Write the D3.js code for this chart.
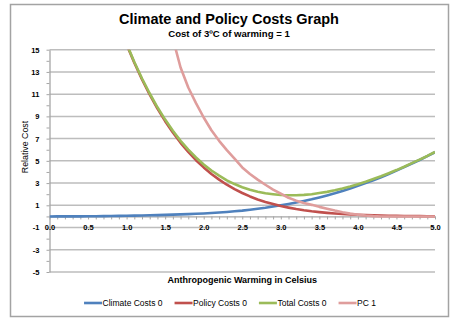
<!DOCTYPE html>
<html lang="en">
<head>
<meta charset="UTF-8">
<title>Climate and Policy Costs Graph</title>
<style>
    body { margin: 0; background: #fff; }
    svg text { font-family: "Liberation Sans", Arial, sans-serif; fill: #000; }
</style>
</head>
<body>
<div id="chart"></div>
<script src="https://cdn.jsdelivr.net/npm/d3@7/dist/d3.min.js"></script>
<script>
// warming in degrees C, one point every 0.1
const temps = [0.0, 0.1, 0.2, 0.3, 0.4, 0.5, 0.6, 0.7, 0.8, 0.9,
    1.0, 1.1, 1.2, 1.3, 1.4, 1.5, 1.6, 1.7, 1.8, 1.9,
    2.0, 2.1, 2.2, 2.3, 2.4, 2.5, 2.6, 2.7, 2.8, 2.9,
    3.0, 3.1, 3.2, 3.3, 3.4, 3.5, 3.6, 3.7, 3.8, 3.9,
    4.0, 4.1, 4.2, 4.3, 4.4, 4.5, 4.6, 4.7, 4.8, 4.9,
    5.0]

const climateCosts = [0, 0.001, 0.002, 0.004, 0.007, 0.011, 0.017, 0.025, 0.035, 0.048,
    0.06, 0.074, 0.09, 0.105, 0.12, 0.14, 0.16, 0.18, 0.21, 0.24,
    0.27, 0.31, 0.355, 0.40, 0.46, 0.52, 0.60, 0.69, 0.78, 0.89,
    1.00, 1.12, 1.25, 1.39, 1.54, 1.71, 1.89, 2.08, 2.29, 2.51,
    2.75, 3.00, 3.26, 3.53, 3.82, 4.12, 4.43, 4.76, 5.08, 5.42,
    5.78]

const policyCosts = [null, null, null, null, null, null, null, null, 19.2, 17.25,
    15.47, 13.82, 12.32, 10.95, 9.70, 8.57, 7.55, 6.62, 5.80, 5.06,
    4.41, 3.82, 3.31, 2.85, 2.45, 2.11, 1.80, 1.53, 1.30, 1.11,
    0.93, 0.79, 0.66, 0.55, 0.46, 0.39, 0.32, 0.265, 0.219, 0.18,
    0.148, 0.121, 0.099, 0.08, 0.065, 0.053, 0.042, 0.034, 0.027, 0.022,
    0.017]

const totalCosts = [null, null, null, null, null, null, null, null, 19.24, 17.30,
    15.53, 13.89, 12.41, 11.06, 9.82, 8.71, 7.71, 6.80, 6.01, 5.30,
    4.68, 4.13, 3.67, 3.25, 2.91, 2.63, 2.40, 2.22, 2.08, 2.00,
    1.93, 1.91, 1.91, 1.94, 2.00, 2.10, 2.21, 2.35, 2.51, 2.69,
    2.90, 3.12, 3.36, 3.61, 3.89, 4.17, 4.47, 4.79, 5.11, 5.44,
    5.80]

const pc1 = [null, null, null, null, null, null, null, null, null, null,
    null, null, null, null, null, 17.3, 16.0, 13.4, 11.6, 10.2,
    8.9, 7.75, 6.8, 5.96, 5.2, 4.41, 3.82, 3.31, 2.85, 2.42,
    2.05, 1.68, 1.42, 1.2, 1.04, 0.86, 0.70, 0.53, 0.38, 0.25,
    0.15, 0.08, 0.03, 0, 0, 0, 0, 0, 0, 0,
    0]

const seriesNames = ['Climate Costs 0', 'Policy Costs 0', 'Total Costs 0', 'PC 1']
const seriesColors = ['#4f81bd', '#c0504d', '#9bbb59', '#df9d9c']

const xLabelTicks = [0, 0.5, 1, 1.5, 2, 2.5, 3, 3.5, 4, 4.5, 5]
const yLabelTicks = [-5, -3, -1, 1, 3, 5, 7, 9, 11, 13, 15]

var width = 462,
    height = 326

var plot = {left: 49.5, right: 435, top: 49.7, bottom: 272}

var svg = d3.select('#chart')
    .append('svg')
    .attr('width', width)
    .attr('height', height)

// chart area frame
svg.append('rect')
    .attr('x', 10.5)
    .attr('y', 4.5)
    .attr('width', 438)
    .attr('height', 312)
    .attr('fill', '#fff')
    .attr('stroke', '#a3a3a3')
    .attr('stroke-width', 1.5)

var x = d3.scaleLinear().domain([0, 5]).range([plot.left, plot.right])
var y = d3.scaleLinear().domain([-5, 15]).range([plot.bottom, plot.top])

// horizontal gridlines on the labelled values
svg.append('g')
    .selectAll('line')
    .data(yLabelTicks)
    .join('line')
    .attr('x1', plot.left)
    .attr('x2', plot.right)
    .attr('y1', d => y(d))
    .attr('y2', d => y(d))
    .attr('stroke', '#bdbdbd')
    .attr('stroke-width', 1.5)

// y axis: a tick on every unit, a label on every other one
var yTickAll = d3.range(-5, 16, 1)
var yAxis = svg.append('g')
    .attr('transform', `translate(${plot.left},0)`)
    .call(d3.axisLeft(y)
        .tickValues(yTickAll)
        .tickSize(3)
        .tickSizeOuter(0)
        .tickPadding(7)
        .tickFormat(d => yLabelTicks.includes(d) ? d : ''))
yAxis.select('.domain').attr('stroke', '#a6a6a6').attr('stroke-width', 1.3)
yAxis.selectAll('.tick line').attr('stroke', '#a6a6a6')
yAxis.selectAll('text')
    .style('font-size', '7.5px')
    .style('font-weight', 'bold')

// x axis crosses at zero, minor ticks every 0.1
var xTickAll = d3.range(0, 51).map(i => i / 10)
var xAxis = svg.append('g')
    .attr('transform', `translate(0,${y(0)})`)
    .call(d3.axisBottom(x)
        .tickValues(xTickAll)
        .tickSize(3)
        .tickSizeOuter(0)
        .tickPadding(5.5)
        .tickFormat(d => xLabelTicks.includes(d) ? d3.format('.1f')(d) : ''))
xAxis.select('.domain').attr('stroke', '#a6a6a6').attr('stroke-width', 1.3)
xAxis.selectAll('.tick line').attr('stroke', '#a6a6a6')
xAxis.selectAll('text')
    .style('font-size', '7.5px')
    .style('font-weight', 'bold')

// series lines, clipped to the plot area
svg.append('clipPath')
    .attr('id', 'plotClip')
    .append('rect')
    .attr('x', plot.left)
    .attr('y', plot.top)
    .attr('width', plot.right - plot.left)
    .attr('height', plot.bottom - plot.top)

var allSeries = [climateCosts, policyCosts, totalCosts, pc1].map((vals, i) => ({
    name: seriesNames[i],
    color: seriesColors[i],
    points: temps.map((t, j) => ({t: t, v: vals[j]}))
}))

var line = d3.line()
    .defined(d => d.v !== null)
    .x(d => x(d.t))
    .y(d => y(d.v))

svg.append('g')
    .attr('clip-path', 'url(#plotClip)')
    .selectAll('path')
    .data(allSeries)
    .join('path')
    .attr('d', d => line(d.points))
    .attr('fill', 'none')
    .attr('stroke', d => d.color)
    .attr('stroke-width', 2.6)
    .attr('stroke-linejoin', 'round')

// titles
svg.append('text')
    .attr('x', 229)
    .attr('y', 23.5)
    .attr('text-anchor', 'middle')
    .style('font-size', '14.5px')
    .style('font-weight', 'bold')
    .text('Climate and Policy Costs Graph')

svg.append('text')
    .attr('x', 229)
    .attr('y', 36.5)
    .attr('text-anchor', 'middle')
    .style('font-size', '9.6px')
    .style('font-weight', 'bold')
    .text('Cost of 3ºC of warming = 1')

svg.append('text')
    .attr('x', (plot.left + plot.right) / 2)
    .attr('y', 283)
    .attr('text-anchor', 'middle')
    .style('font-size', '9px')
    .style('font-weight', 'bold')
    .text('Anthropogenic Warming in Celsius')

svg.append('text')
    .attr('transform', 'translate(28,147) rotate(-90)')
    .attr('text-anchor', 'middle')
    .style('font-size', '8.8px')
    .text('Relative Cost')

// legend, laid out from the measured label widths and centred
var legend = svg.append('g')
var item = legend.selectAll('g')
    .data(allSeries)
    .join('g')

item.append('line')
    .attr('x1', 0)
    .attr('x2', 18)
    .attr('y1', 0)
    .attr('y2', 0)
    .attr('stroke', d => d.color)
    .attr('stroke-width', 2.6)

item.append('text')
    .attr('x', 18.5)
    .attr('y', 3)
    .style('font-size', '8.5px')
    .text(d => d.name)

var offset = 0
item.each(function () {
    var w = 18.5 + this.querySelector('text').getComputedTextLength()
    d3.select(this).attr('transform', `translate(${offset},303)`)
    offset += w + 12
})
legend.attr('transform', `translate(${230 - (offset - 12) / 2},0)`)
</script>
</body>
</html>
